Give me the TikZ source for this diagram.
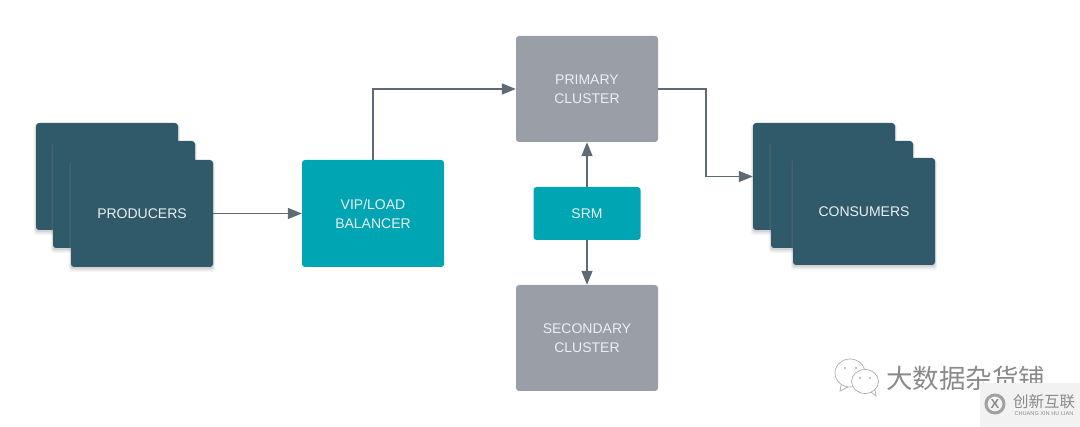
\documentclass[tikz,border=0pt]{standalone}
\usepackage{fontspec}
\setmainfont{Liberation Sans}
\newfontfamily\cjkfont{Noto Sans CJK SC}
\usetikzlibrary{positioning,shadows,arrows.meta}
\definecolor{cardcol}{HTML}{30596A}
\definecolor{tealcol}{HTML}{00A5B3}
\definecolor{graycol}{HTML}{9A9EA7}
\definecolor{linecol}{HTML}{5F6A75}
\definecolor{textcol}{HTML}{E9F0F2}
\definecolor{markcol}{HTML}{8A8A8A}
\tikzset{
  basebox/.style={rounded corners=3pt,text=textcol,align=center,inner sep=0pt,font=\fontsize{14}{19}\selectfont},
  cardbox/.style={basebox,fill=cardcol,minimum width=142pt,minimum height=107pt,
    drop shadow={shadow xshift=0pt,shadow yshift=-3.5pt,shadow scale=1.03,opacity=.08},
    drop shadow={shadow xshift=0pt,shadow yshift=-2.5pt,shadow scale=1.02,opacity=.12},
    drop shadow={shadow xshift=0pt,shadow yshift=-1.5pt,shadow scale=1.01,opacity=.18}},
  tealbox/.style={basebox,fill=tealcol,minimum width=142pt,minimum height=107pt},
  graybox/.style={basebox,fill=graycol,minimum width=142pt,minimum height=106pt},
  link/.style={draw=linecol,line width=1.5pt,-{Triangle[length=14pt,width=11pt]}},
  markline/.style={draw=markcol!70,line width=.7pt}
}
\begin{document}
\begin{tikzpicture}[x=1pt,y=-1pt,on grid]
\useasboundingbox (0,0) rectangle (1080,427);
% producers
\node[cardbox] (prodback) at (107,176.5) {};
\node[cardbox,below right=18pt and 17pt of prodback] (prodmid) {};
\node[cardbox,below right=19pt and 18pt of prodmid] (prodfront) {PRODUCERS};
% consumers
\node[cardbox] (consback) at (824,176.5) {};
\node[cardbox,below right=18pt and 18pt of consback] (consmid) {};
\node[cardbox,below right=17pt and 22pt of consmid] (consfront) {CONSUMERS};
% middle
\node[tealbox,right=231pt of prodfront] (balancer) {VIP/LOAD\\BALANCER};
\node[graybox] (primary) at (587,89) {PRIMARY\\CLUSTER};
\node[basebox,fill=tealcol,minimum width=107pt,minimum height=53pt,below=124.5pt of primary] (srm) {SRM};
\node[graybox,below=249pt of primary] (secondary) {SECONDARY\\CLUSTER};
\coordinate (consbend) at (706,89);
% links
\draw[link] (prodfront) -- (balancer);
\draw[link] (balancer.north) |- (primary.west);
\draw[link] (primary.east) -| (consbend) |- (consback.west);
\draw[link] (srm) -- (primary);
\draw[link] (srm) -- (secondary);
% watermark
\draw[markline,fill=white] (850,373) ellipse (15pt and 14pt);
\draw[markline] (841,385) -- (840,391) -- (848,387);
\fill[markcol!70] (845,368) circle (1.2pt) (856,368) circle (1.2pt);
\draw[markline,fill=white] (865,381.5) ellipse (13.5pt and 12pt);
\draw[markline] (871,392) -- (876,396) -- (875,390);
\fill[markcol!70] (860,378) circle (1.2pt) (870,378) circle (1.2pt);
\node[text=markcol,font=\cjkfont\fontsize{26.5}{26.5}\selectfont,inner sep=0pt] (marktext) at (965.5,378) {大数据杂货铺};
\fill[black!5] (980,383) rectangle (1080,427);
\node[circle,draw=markcol!80,line width=3pt,minimum size=18pt,inner sep=0pt,text=markcol,font=\bfseries\fontsize{13}{13}\selectfont] (marklogo) at (995,404) {X};
\node[text=markcol,font=\cjkfont\fontsize{15.5}{15.5}\selectfont,inner sep=0pt] (markcn) at (1044,402) {创新互联};
\node[text=markcol,font=\fontsize{5.6}{5.6}\selectfont,inner sep=0pt] (markpy) at (1044,414) {CHUANG XIN HU LIAN};
\end{tikzpicture}
\end{document}
